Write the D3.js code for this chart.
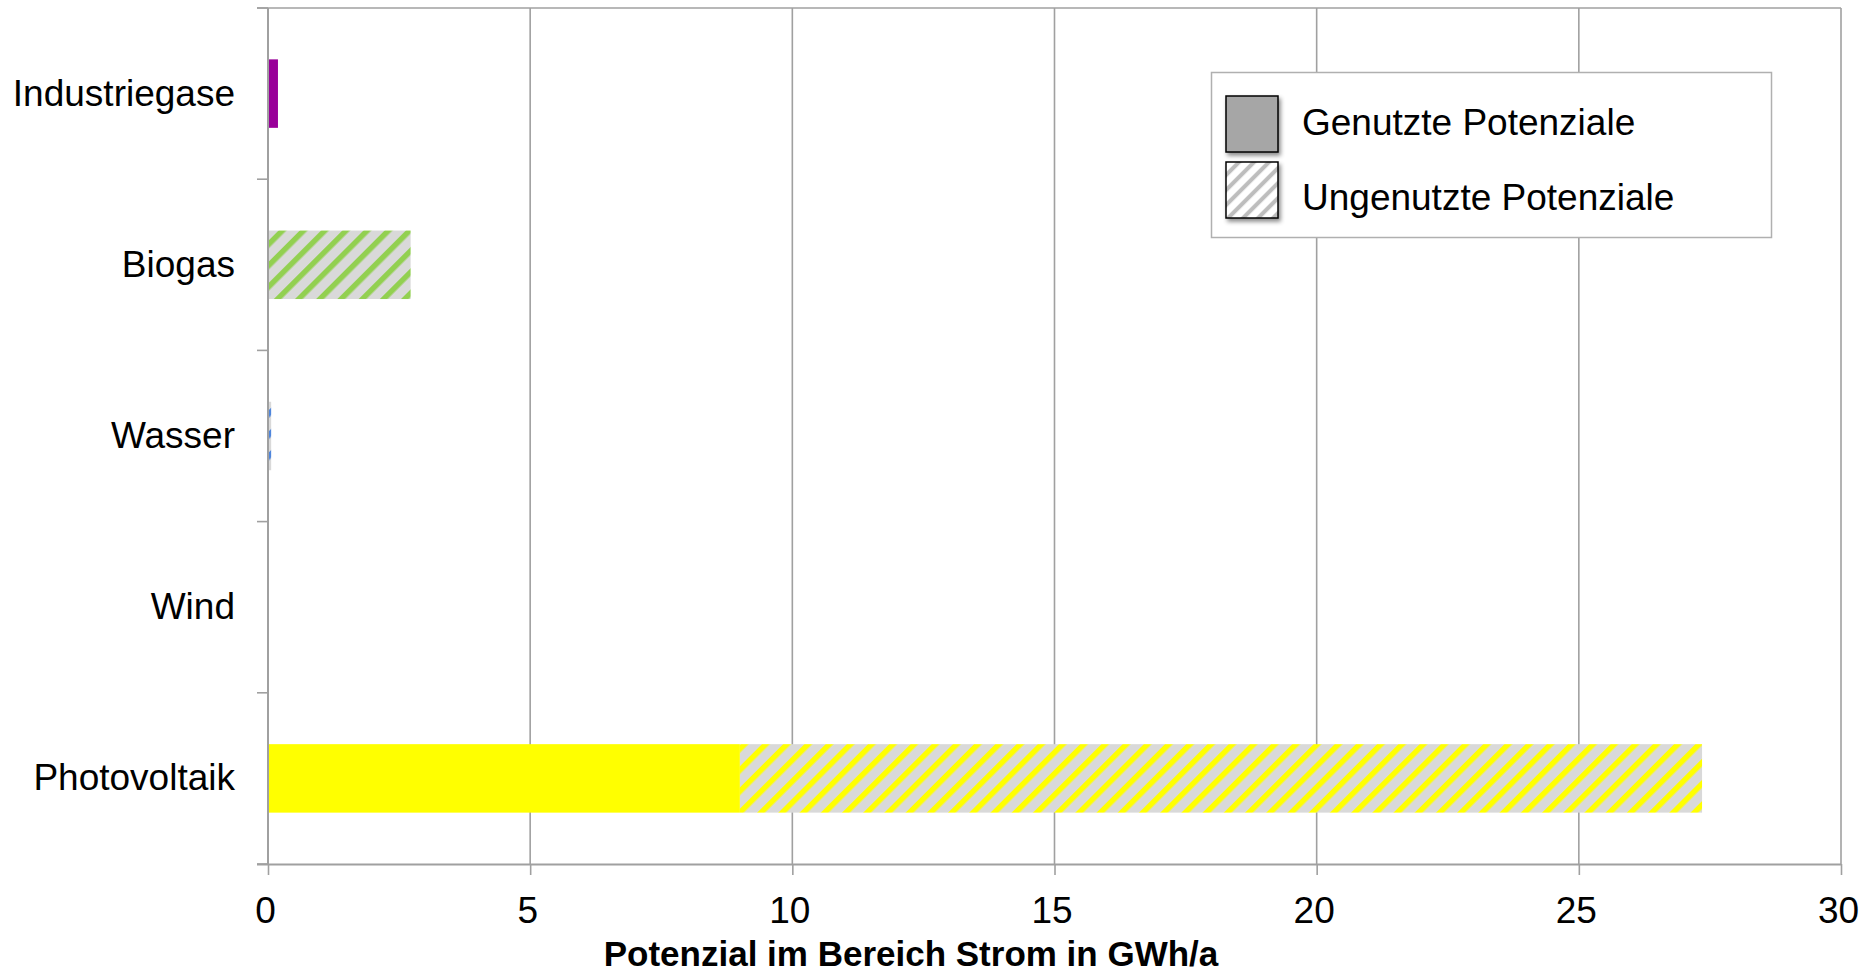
<!DOCTYPE html>
<html>
<head>
<meta charset="utf-8">
<script src="https://cdn.jsdelivr.net/npm/d3@7"></script>
<style>
  html, body { margin: 0; padding: 0; background: #fff; }
  svg { display: block; }
  text { font-family: "Liberation Sans", Arial, sans-serif; fill: #000; }
</style>
</head>
<body>
<svg id="chart" width="1862" height="975"></svg>
<script>
// ---- data ----
const categories = ["Industriegase", "Biogas", "Wasser", "Wind", "Photovoltaik"];
const usedValues = [0.19, 0, 0, 0, 9.0];        // Genutzte Potenziale (GWh/a)
const unusedValues = [0, 2.72, 0.06, 0, 18.35]; // Ungenutzte Potenziale (GWh/a)
const xTicks = [0, 5, 10, 15, 20, 25, 30];
const legendLabels = ["Genutzte Potenziale", "Ungenutzte Potenziale"];
const xTitle = "Potenzial im Bereich Strom in GWh/a";

// ---- styles ----
const palette = ["#990099", "#92d050", "#4f86dc", "#0070c0", "#ffff00"];
const hatchBg = "#d9d9d9";
const gridColor = "#a0a0a0";
const FS = 37;

const W = 1862, H = 975;
const plot = { left: 268, right: 1841, top: 8, bottom: 864 };

const svg = d3.select("#chart");
const defs = svg.append("defs");

const x = d3.scaleLinear().domain([0, 30]).range([plot.left, plot.right]);
const yBand = d3.scaleBand().domain(categories).range([plot.top, plot.bottom]).padding(0);
const yBar = d3.scaleBand().domain(categories).range([plot.top, plot.bottom])
  .paddingInner(0.6).paddingOuter(0.3);

// hatch patterns
categories.forEach((c, i) => {
  const p = defs.append("pattern")
    .attr("id", "hatch" + i)
    .attr("patternUnits", "userSpaceOnUse")
    .attr("width", 15).attr("height", 15)
    .attr("patternTransform", "rotate(45)");
  p.append("rect").attr("width", 15).attr("height", 15).attr("fill", hatchBg);
  p.append("rect").attr("width", 5.5).attr("height", 15).attr("fill", palette[i]);
});
const lp = defs.append("pattern")
  .attr("id", "legendHatch")
  .attr("patternUnits", "userSpaceOnUse")
  .attr("width", 10.6).attr("height", 10.6)
  .attr("patternTransform", "rotate(45)");
lp.append("rect").attr("width", 10.6).attr("height", 10.6).attr("fill", "#ffffff");
lp.append("rect").attr("x", 3).attr("width", 4).attr("height", 10.6).attr("fill", "#bdbdbd");

const sh = defs.append("filter").attr("id", "shadow")
  .attr("x", "-30%").attr("y", "-30%").attr("width", "160%").attr("height", "160%");
sh.append("feDropShadow").attr("dx", 2).attr("dy", 3).attr("stdDeviation", 2)
  .attr("flood-color", "#000").attr("flood-opacity", 0.45);

// gridlines (vertical) incl. right border
svg.append("g").selectAll("line").data(xTicks.filter(d => d > 0)).join("line")
  .attr("x1", d => x(d)).attr("x2", d => x(d))
  .attr("y1", plot.top).attr("y2", plot.bottom)
  .attr("stroke", gridColor).attr("stroke-width", 1.6);

// top border
svg.append("line")
  .attr("x1", plot.left - 11).attr("x2", plot.right)
  .attr("y1", plot.top).attr("y2", plot.top)
  .attr("stroke", gridColor).attr("stroke-width", 1.6);

// bars
const bars = svg.append("g");
categories.forEach((c, i) => {
  if (usedValues[i] > 0) {
    bars.append("rect")
      .attr("x", x(0)).attr("y", yBar(c))
      .attr("width", x(usedValues[i]) - x(0)).attr("height", yBar.bandwidth())
      .attr("fill", palette[i]);
  }
  if (unusedValues[i] > 0) {
    bars.append("rect")
      .attr("x", x(usedValues[i])).attr("y", yBar(c))
      .attr("width", x(usedValues[i] + unusedValues[i]) - x(usedValues[i]))
      .attr("height", yBar.bandwidth())
      .attr("fill", "url(#hatch" + i + ")");
  }
});

// left axis line and boundary ticks
svg.append("line")
  .attr("x1", plot.left).attr("x2", plot.left)
  .attr("y1", plot.top).attr("y2", plot.bottom)
  .attr("stroke", gridColor).attr("stroke-width", 2);
const bounds = categories.map(c => yBand(c)).concat([plot.bottom]);
svg.append("g").selectAll("line").data(bounds).join("line")
  .attr("x1", plot.left - 11).attr("x2", plot.left)
  .attr("y1", d => d).attr("y2", d => d)
  .attr("stroke", gridColor).attr("stroke-width", 1.6);

// category labels
svg.append("g").selectAll("text").data(categories).join("text")
  .attr("x", 235)
  .attr("y", d => yBand(d) + yBand.bandwidth() / 2 + 12)
  .attr("text-anchor", "end")
  .attr("font-size", FS)
  .text(d => d);

// bottom axis
const xAxis = svg.append("g")
  .attr("transform", `translate(0,${plot.bottom})`)
  .call(d3.axisBottom(x).tickValues(xTicks).tickSize(11).tickSizeOuter(0).tickFormat(d3.format("d")));
xAxis.attr("font-family", null).attr("font-size", null);
xAxis.select(".domain").attr("stroke", gridColor).attr("stroke-width", 2)
  .attr("d", `M${plot.left - 11},0.5H${plot.right}`);
xAxis.selectAll(".tick line").attr("stroke", gridColor).attr("stroke-width", 1.6);
xAxis.selectAll(".tick text")
  .attr("font-size", FS).attr("fill", "#000")
  .attr("x", -3).attr("y", 59).attr("dy", null);

// x title
svg.append("text")
  .attr("x", 911).attr("y", 966)
  .attr("text-anchor", "middle")
  .attr("font-size", 35)
  .attr("font-weight", "bold")
  .text(xTitle);

// legend
const lg = svg.append("g");
lg.append("rect")
  .attr("x", 1211.5).attr("y", 72.5).attr("width", 560).attr("height", 165)
  .attr("fill", "#fff").attr("stroke", "#b0b0b0").attr("stroke-width", 1.5);
const swY = [124, 190];
const textY = [135, 210];
lg.append("rect")
  .attr("x", 1226).attr("y", swY[0] - 28).attr("width", 52).attr("height", 56)
  .attr("fill", "#a6a6a6").attr("stroke", "#000").attr("stroke-width", 1.5)
  .attr("filter", "url(#shadow)");
lg.append("rect")
  .attr("x", 1226).attr("y", swY[1] - 28).attr("width", 52).attr("height", 56)
  .attr("fill", "url(#legendHatch)").attr("stroke", "#000").attr("stroke-width", 1.5)
  .attr("filter", "url(#shadow)");
lg.selectAll("text.leg").data(legendLabels).join("text")
  .attr("class", "leg")
  .attr("x", 1302)
  .attr("y", (d, i) => textY[i])
  .attr("font-size", FS)
  .text(d => d);
</script>
</body>
</html>
